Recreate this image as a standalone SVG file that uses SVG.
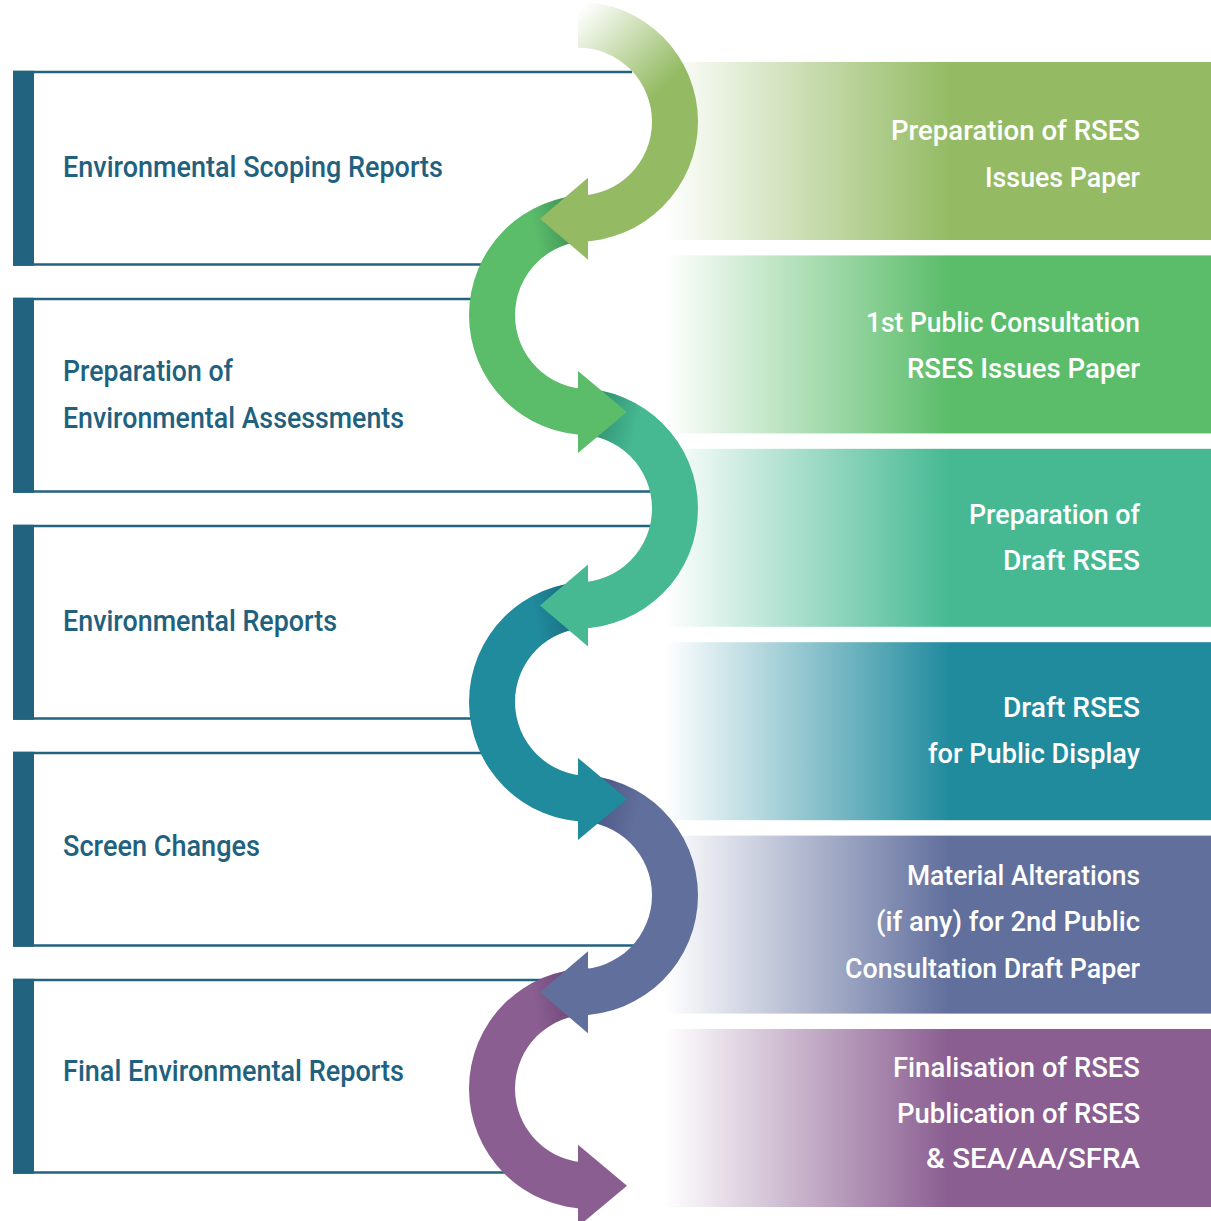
<svg xmlns="http://www.w3.org/2000/svg" width="1211" height="1221" viewBox="0 0 1211 1221">
<style>
.line{stroke:#22637f;stroke-width:2.5;fill:none}
.bar{fill:#22637f}
.lt{font-family:Roboto,"Liberation Sans",sans-serif;font-weight:500;font-size:30px;fill:#22617e}
.rt{font-family:Roboto,"Liberation Sans",sans-serif;font-weight:500;font-size:28px;fill:#ffffff}
</style>
<defs>
<linearGradient id="p1"><stop offset="0" stop-color="#94bb64" stop-opacity="0"/><stop offset="0.52" stop-color="#94bb64"/></linearGradient>
<linearGradient id="p2"><stop offset="0" stop-color="#5bbc6a" stop-opacity="0"/><stop offset="0.52" stop-color="#5bbc6a"/></linearGradient>
<linearGradient id="p3"><stop offset="0" stop-color="#46b993" stop-opacity="0"/><stop offset="0.52" stop-color="#46b993"/></linearGradient>
<linearGradient id="p4"><stop offset="0" stop-color="#218b9e" stop-opacity="0"/><stop offset="0.52" stop-color="#218b9e"/></linearGradient>
<linearGradient id="p5"><stop offset="0" stop-color="#616f9d" stop-opacity="0"/><stop offset="0.52" stop-color="#616f9d"/></linearGradient>
<linearGradient id="p6"><stop offset="0" stop-color="#8a5e91" stop-opacity="0"/><stop offset="0.52" stop-color="#8a5e91"/></linearGradient>
<linearGradient id="a1" gradientUnits="userSpaceOnUse" x1="0" y1="-110" x2="80" y2="-30"><stop offset="0" stop-color="#94bb64" stop-opacity="0"/><stop offset="1" stop-color="#94bb64"/></linearGradient>
<linearGradient id="s2" gradientUnits="userSpaceOnUse" x1="-12" y1="-97" x2="-55" y2="-88"><stop offset="0" stop-color="#3a8c52"/><stop offset="1" stop-color="#3a8c52" stop-opacity="0"/></linearGradient>
<linearGradient id="s3" gradientUnits="userSpaceOnUse" x1="12" y1="-97" x2="60" y2="-85"><stop offset="0" stop-color="#2d8a6c"/><stop offset="1" stop-color="#2d8a6c" stop-opacity="0"/></linearGradient>
<linearGradient id="s4" gradientUnits="userSpaceOnUse" x1="-12" y1="-97" x2="-55" y2="-88"><stop offset="0" stop-color="#17687a"/><stop offset="1" stop-color="#17687a" stop-opacity="0"/></linearGradient>
<linearGradient id="s5" gradientUnits="userSpaceOnUse" x1="12" y1="-97" x2="60" y2="-85"><stop offset="0" stop-color="#4a5482"/><stop offset="1" stop-color="#4a5482" stop-opacity="0"/></linearGradient>
<linearGradient id="s6" gradientUnits="userSpaceOnUse" x1="-12" y1="-97" x2="-55" y2="-88"><stop offset="0" stop-color="#6a4475"/><stop offset="1" stop-color="#6a4475" stop-opacity="0"/></linearGradient>
<path id="bandR" d="M0,-120 A120,120 0 0 1 0,120 L0,74 A74,74 0 0 0 0,-74 Z"/>
<path id="headR" d="M10,56 L-38,97 L10,138 Z"/>
<path id="shR" d="M0,-120 A120,120 0 0 1 84.9,-84.9 L52.3,-52.3 A74,74 0 0 0 0,-74 Z"/>
<path id="bandL" d="M0,-120 A120,120 0 0 0 0,120 L0,74 A74,74 0 0 1 0,-74 Z"/>
<path id="headL" d="M-11,56 L38,97 L-11,138 Z"/>
<path id="shL" d="M0,-120 A120,120 0 0 0 -84.9,-84.9 L-52.3,-52.3 A74,74 0 0 1 0,-74 Z"/>
</defs>

<g id="panel1"><rect x="665" y="62" width="546" height="178" fill="url(#p1)"/>
<text class="rt" x="891" y="140" textLength="249" lengthAdjust="spacingAndGlyphs">Preparation of RSES</text>
<text class="rt" x="985" y="187" textLength="155" lengthAdjust="spacingAndGlyphs">Issues Paper</text></g>
<g id="panel2"><rect x="665" y="255.4" width="546" height="178" fill="url(#p2)"/>
<text class="rt" x="866" y="332" textLength="274" lengthAdjust="spacingAndGlyphs">1st Public Consultation</text>
<text class="rt" x="907" y="378" textLength="233" lengthAdjust="spacingAndGlyphs">RSES Issues Paper</text></g>
<g id="panel3"><rect x="665" y="448.8" width="546" height="178" fill="url(#p3)"/>
<text class="rt" x="969" y="524" textLength="171" lengthAdjust="spacingAndGlyphs">Preparation of</text>
<text class="rt" x="1003" y="570" textLength="137" lengthAdjust="spacingAndGlyphs">Draft RSES</text></g>
<g id="panel4"><rect x="665" y="642.2" width="546" height="178" fill="url(#p4)"/>
<text class="rt" x="1003" y="717" textLength="137" lengthAdjust="spacingAndGlyphs">Draft RSES</text>
<text class="rt" x="928" y="763" textLength="212" lengthAdjust="spacingAndGlyphs">for Public Display</text></g>
<g id="panel5"><rect x="665" y="835.6" width="546" height="178" fill="url(#p5)"/>
<text class="rt" x="907" y="885" textLength="233" lengthAdjust="spacingAndGlyphs">Material Alterations</text>
<text class="rt" x="876" y="931" textLength="264" lengthAdjust="spacingAndGlyphs">(if any) for 2nd Public</text>
<text class="rt" x="845" y="978" textLength="295" lengthAdjust="spacingAndGlyphs">Consultation Draft Paper</text></g>
<g id="panel6"><rect x="665" y="1029" width="546" height="178" fill="url(#p6)"/>
<text class="rt" x="893" y="1077" textLength="247" lengthAdjust="spacingAndGlyphs">Finalisation of RSES</text>
<text class="rt" x="897" y="1123" textLength="243" lengthAdjust="spacingAndGlyphs">Publication of RSES</text>
<text class="rt" x="926" y="1168" textLength="214" lengthAdjust="spacingAndGlyphs">&amp; SEA/AA/SFRA</text></g>

<g id="box1"><rect class="bar" x="13" y="70.8" width="21" height="195"/>
<path class="line" d="M13,72 H632 M13,264.5 H505"/>
<text class="lt" x="63" y="177" textLength="380" lengthAdjust="spacingAndGlyphs">Environmental Scoping Reports</text></g>
<g id="box2"><rect class="bar" x="13" y="297.8" width="21" height="195"/>
<path class="line" d="M13,299 H490 M13,491.5 H670"/>
<text class="lt" x="63" y="381" textLength="170" lengthAdjust="spacingAndGlyphs">Preparation of</text>
<text class="lt" x="63" y="428" textLength="341" lengthAdjust="spacingAndGlyphs">Environmental Assessments</text></g>
<g id="box3"><rect class="bar" x="13" y="524.8" width="21" height="195"/>
<path class="line" d="M13,526 H670 M13,718.5 H490"/>
<text class="lt" x="63" y="631" textLength="274" lengthAdjust="spacingAndGlyphs">Environmental Reports</text></g>
<g id="box4"><rect class="bar" x="13" y="751.8" width="21" height="195"/>
<path class="line" d="M13,753 H505 M13,945.5 H655"/>
<text class="lt" x="63" y="856" textLength="197" lengthAdjust="spacingAndGlyphs">Screen Changes</text></g>
<g id="box5"><rect class="bar" x="13" y="978.8" width="21" height="195"/>
<path class="line" d="M13,980 H560 M13,1172.5 H520"/>
<text class="lt" x="63" y="1081" textLength="341" lengthAdjust="spacingAndGlyphs">Final Environmental Reports</text></g>

<g id="connectors">
<g id="arc6" transform="translate(589,1088.7)" fill="#8a5e91"><use href="#bandL"/><use href="#shL" fill="url(#s6)"/><use href="#headL"/></g>
<g id="arc5" transform="translate(578,895.3)" fill="#616f9d"><use href="#bandR"/><use href="#shR" fill="url(#s5)"/><use href="#headR"/></g>
<g id="arc4" transform="translate(589,701.9)" fill="#218b9e"><use href="#bandL"/><use href="#shL" fill="url(#s4)"/><use href="#headL"/></g>
<g id="arc3" transform="translate(578,508.5)" fill="#46b993"><use href="#bandR"/><use href="#shR" fill="url(#s3)"/><use href="#headR"/></g>
<g id="arc2" transform="translate(589,315.1)" fill="#5bbc6a"><use href="#bandL"/><use href="#shL" fill="url(#s2)"/><use href="#headL"/></g>
<g id="arc1" transform="translate(578,121.7)" fill="#94bb64"><use href="#bandR" fill="url(#a1)"/><use href="#headR"/></g>
</g>
</svg>
